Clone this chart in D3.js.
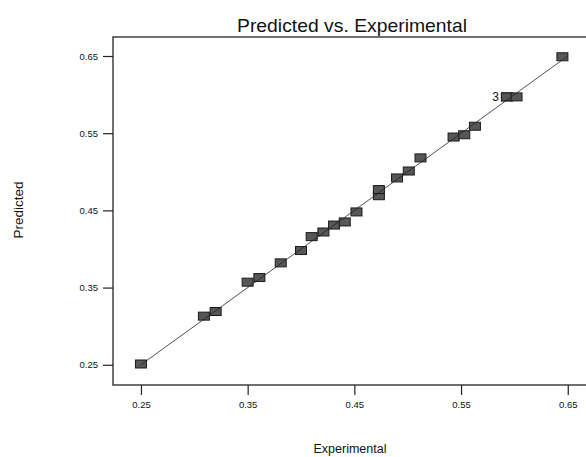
<!doctype html>
<html lang="en">
<head>
  <title>Predicted vs. Experimental</title>
  <script src="https://d3js.org/d3.v7.min.js"></script>
  <style>
    body {
      margin: 0px;
      background: #ffffff;
    }
    text {
      font-family: "Liberation Sans", Arial, sans-serif;
      fill: #111;
    }
  </style>
</head>
<body>
    <div id="container"></div>

    <script>
        // experimental (x) vs predicted (y) runs
        var experimental = [0.250, 0.309, 0.320, 0.350, 0.361, 0.381, 0.400, 0.410, 0.421, 0.431,
                            0.441, 0.452, 0.473, 0.473, 0.490, 0.501, 0.512, 0.543, 0.553, 0.563,
                            0.593, 0.593, 0.602, 0.645];
        var predicted    = [0.251, 0.313, 0.319, 0.357, 0.363, 0.382, 0.398, 0.416, 0.422, 0.431,
                            0.435, 0.448, 0.469, 0.477, 0.492, 0.501, 0.518, 0.545, 0.548, 0.559,
                            0.597, 0.597, 0.597, 0.649];
        var tickValues = [0.25, 0.35, 0.45, 0.55, 0.65];
        var tickLabels = ["0.25", "0.35", "0.45", "0.55", "0.65"];
        var fitLine = [0.25, 0.65];
        var countLabel = {index: 20, text: "3"};

        var svg = d3.select('div#container').append('svg')
            .attr('width', 586)
            .attr('height', 457);

        var x = d3.scaleLinear()
            .domain([0.2238, 0.6746])
            .range([113, 594]);

        var y = d3.scaleLinear()
            .domain([0.2238, 0.6746])
            .range([385, 37]);

        // title
        svg.append("text")
            .attr("x", 352)
            .attr("y", 32)
            .style("text-anchor", "middle")
            .style("font-size", "19px")
            .attr("textLength", 230)
            .attr("lengthAdjust", "spacingAndGlyphs")
            .text("Predicted vs. Experimental");

        // frame
        svg.append("rect")
            .attr("x", x.range()[0])
            .attr("y", y.range()[1])
            .attr("width", x.range()[1] - x.range()[0])
            .attr("height", y.range()[0] - y.range()[1])
            .attr("fill", "none")
            .attr("stroke", "#111")
            .attr("stroke-width", 1.2);

        var fmt = function (d, i) { return tickLabels[i]; };

        var xAxis = svg.append("g")
            .attr("transform", "translate(0, 385)")
            .call(d3.axisBottom(x).tickValues(tickValues).tickFormat(fmt)
                    .tickSize(10).tickPadding(6));

        var yAxis = svg.append("g")
            .attr("transform", "translate(113, 0)")
            .call(d3.axisLeft(y).tickValues(tickValues).tickFormat(fmt)
                    .tickSize(10).tickPadding(5));

        [xAxis, yAxis].forEach(function (g) {
            g.select(".domain").remove();
            g.selectAll(".tick line").attr("stroke", "#222").attr("stroke-width", 1.2);
            g.selectAll(".tick text")
                .style("font-family", '"Liberation Sans", Arial, sans-serif')
                .style("font-size", "9.5px")
                .attr("fill", "#222");
        });

        svg.append("text")
            .attr("x", 350)
            .attr("y", 453)
            .style("text-anchor", "middle")
            .style("font-size", "12.5px")
            .text("Experimental");

        svg.append("text")
            .attr("transform", "rotate(-90)")
            .attr("x", -210)
            .attr("y", 23)
            .style("text-anchor", "middle")
            .style("font-size", "13.5px")
            .text("Predicted");

        var points = experimental.map(function (d, i) {
            return {exp: d, pred: predicted[i]};
        });

        svg.append('g')
            .selectAll("rect")
            .data(points)
            .enter()
            .append("rect")
                .attr("x", function (d) { return x(d.exp) - 5.5; })
                .attr("y", function (d) { return y(d.pred) - 4; })
                .attr("width", 11)
                .attr("height", 8)
                .attr("fill", "#575757")
                .attr("stroke", "#1a1a1a")
                .attr("stroke-width", 1);

        svg.append("line")
            .attr("x1", x(fitLine[0]))
            .attr("y1", y(fitLine[0]))
            .attr("x2", x(fitLine[1]))
            .attr("y2", y(fitLine[1]))
            .attr("stroke", "#222")
            .attr("stroke-width", 0.8);

        var lp = points[countLabel.index];
        svg.append("text")
            .attr("x", x(lp.exp) - 8)
            .attr("y", y(lp.pred) + 4)
            .style("text-anchor", "end")
            .style("font-size", "12px")
            .text(countLabel.text);
    </script>
</body>
</html>
